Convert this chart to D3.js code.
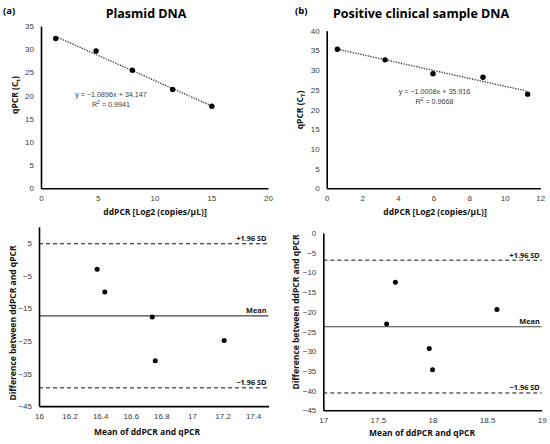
<!DOCTYPE html>
<html>
<head>
<meta charset="utf-8">
<script src="https://cdn.jsdelivr.net/npm/d3@7"></script>
<style>
  html, body { margin: 0; padding: 0; background: #fff; }
  svg { display: block; }
</style>
</head>
<body>
<svg id="chart" width="550" height="444"></svg>
<script>
// ---------- data ----------
const plasmidX = [1.3, 4.85, 8.05, 11.6, 15.05];
const plasmidY = [32.3, 29.6, 25.45, 21.3, 17.7];
const plasmidFit = { slope: -1.0896, intercept: 34.147, r2: "0.9941", eq: "y = \u22121.0896x + 34.147" };

const clinicalX = [0.6, 3.28, 5.97, 8.78, 11.29];
const clinicalY = [35.3, 32.6, 29.1, 28.2, 23.9];
const clinicalFit = { slope: -1.0008, intercept: 35.916, r2: "0.9668", eq: "y = \u22121.0008x + 35.916" };

const baPlasmidMean = [16.38, 16.43, 16.74, 16.76, 17.21];
const baPlasmidDiff = [-3.0, -10.0, -17.7, -31.1, -24.9];
const baPlasmidLines = { upper: 4.8, mean: -17.3, lower: -39.4 };

const baClinicalMean = [17.66, 17.58, 18.59, 17.97, 18.0];
const baClinicalDiff = [-12.5, -23.1, -19.4, -29.3, -34.7];
const baClinicalLines = { upper: -6.9, mean: -23.8, lower: -40.6 };

const ticksTLx = [0, 5, 10, 15, 20];
const ticksTLy = [0, 5, 10, 15, 20, 25, 30, 35];
const ticksTRx = [0, 2, 4, 6, 8, 10, 12];
const ticksTRy = [0, 5, 10, 15, 20, 25, 30, 35, 40];
const ticksBLx = [16, 16.2, 16.4, 16.6, 16.8, 17, 17.2, 17.4];
const ticksBLy = [5, -5, -15, -25, -35, -45];
const ticksBRx = [17, 17.5, 18, 18.5, 19];
const ticksBRy = [0, -5, -10, -15, -20, -25, -30, -35, -40, -45];

// ---------- drawing ----------
const svg = d3.select("#chart");
const TICK_FONT = "'Liberation Sans', Arial, sans-serif";
const BOLD_FONT = "'Open Sans', 'DejaVu Sans', sans-serif";

function axes(g, x, y, xTicks, yTicks, fmt) {
  const xr = x.range(), yr = y.range();
  const xa = g.append("g").attr("transform", `translate(0,${yr[0]})`)
    .call(d3.axisBottom(x).tickValues(xTicks).tickSize(0).tickPadding(7).tickFormat(fmt));
  const ya = g.append("g").attr("transform", `translate(${xr[0]},0)`)
    .call(d3.axisLeft(y).tickValues(yTicks).tickSize(0).tickPadding(7).tickFormat(fmt));
  [xa, ya].forEach(a => {
    a.select(".domain").attr("stroke", "#000").attr("stroke-width", 1.6);
    a.selectAll("text").attr("font-family", TICK_FONT).attr("font-size", 8).attr("fill", "#3a3a3a");
  });
}

function axisTitles(g, xt, yt) {
  g.append("text").attr("x", xt.x).attr("y", xt.y).attr("text-anchor", "middle")
    .attr("font-family", BOLD_FONT).attr("font-weight", 700).attr("font-size", 8.5).attr("fill", "#111")
    .text(xt.text);
  const t = g.append("text").attr("transform", `translate(${yt.x},${yt.y}) rotate(-90)`)
    .attr("text-anchor", "middle").attr("font-family", BOLD_FONT).attr("font-weight", 700)
    .attr("font-size", 8.5).attr("fill", "#111");
  t.append("tspan").text(yt.text);
  if (yt.sub) {
    t.append("tspan").attr("font-size", 6).attr("dy", 2).text(yt.sub);
    t.append("tspan").attr("dy", -2).text(")");
  }
}

function scatterPanel(cfg) {
  const g = svg.append("g");
  const x = d3.scaleLinear().domain(cfg.xDomain).range(cfg.xRange);
  const y = d3.scaleLinear().domain(cfg.yDomain).range(cfg.yRange);
  axes(g, x, y, cfg.xTicks, cfg.yTicks, d3.format("~g"));
  const xs = cfg.xs, ys = cfg.ys, fit = cfg.fit;
  const x0 = d3.min(xs), x1 = d3.max(xs);
  g.append("line")
    .attr("x1", x(x0)).attr("y1", y(fit.slope * x0 + fit.intercept))
    .attr("x2", x(x1)).attr("y2", y(fit.slope * x1 + fit.intercept))
    .attr("stroke", "#333").attr("stroke-width", 1.3).attr("stroke-dasharray", "1.3,1.3");
  g.selectAll("circle.pt").data(xs).join("circle").attr("class", "pt")
    .attr("cx", d => x(d)).attr("cy", (d, i) => y(ys[i])).attr("r", 2.7).attr("fill", "#000");
  const eq = g.append("text").attr("x", cfg.eqPos[0]).attr("y", cfg.eqPos[1])
    .attr("text-anchor", "middle").attr("font-family", TICK_FONT).attr("font-size", 7.2).attr("fill", "#3a3a3a");
  eq.append("tspan").attr("x", cfg.eqPos[0]).text(fit.eq);
  const r = eq.append("tspan").attr("x", cfg.eqPos[0]).attr("dy", 10);
  r.append("tspan").text("R");
  r.append("tspan").attr("font-size", 5).attr("dy", -3).text("2");
  r.append("tspan").attr("dy", 3).text(" = " + fit.r2);
  g.append("text").attr("x", cfg.title.x).attr("y", cfg.title.y).attr("text-anchor", "middle")
    .attr("font-family", BOLD_FONT).attr("font-weight", 700).attr("font-size", 12.5).attr("fill", "#000")
    .text(cfg.title.text);
  g.append("text").attr("x", cfg.tag.x).attr("y", cfg.tag.y)
    .attr("font-family", BOLD_FONT).attr("font-weight", 700).attr("font-size", 9.5).attr("fill", "#000")
    .text(cfg.tag.text);
  axisTitles(g, cfg.xTitle, cfg.yTitle);
}

function baPanel(cfg) {
  const g = svg.append("g");
  const x = d3.scaleLinear().domain(cfg.xDomain).range(cfg.xRange);
  const y = d3.scaleLinear().domain(cfg.yDomain).range(cfg.yRange);
  const xr = x.range();
  const L = cfg.lines;
  [["upper", "+1.96 SD", true], ["mean", "Mean", false], ["lower", "\u22121.96 SD", true]].forEach(([k, lab, dashed]) => {
    g.append("line").attr("x1", xr[0]).attr("x2", xr[1]).attr("y1", y(L[k])).attr("y2", y(L[k]))
      .attr("stroke", dashed ? "#111" : "#444").attr("stroke-width", dashed ? 1 : 1.2)
      .attr("stroke-dasharray", dashed ? "4,3" : null);
    g.append("text").attr("x", xr[1] - 2).attr("y", y(L[k]) - 2.5).attr("text-anchor", "end")
      .attr("font-family", BOLD_FONT).attr("font-weight", 700).attr("font-size", 7.3).attr("fill", "#111")
      .text(lab);
  });
  axes(g, x, y, cfg.xTicks, cfg.yTicks, d3.format("~g"));
  g.selectAll("circle.pt").data(cfg.xs).join("circle").attr("class", "pt")
    .attr("cx", d => x(d)).attr("cy", (d, i) => y(cfg.ys[i])).attr("r", 2.5).attr("fill", "#000");
  axisTitles(g, cfg.xTitle, cfg.yTitle);
}

scatterPanel({
  xDomain: [0, 20], xRange: [41, 268], yDomain: [0, 35], yRange: [188.3, 26],
  xTicks: ticksTLx, yTicks: ticksTLy, xs: plasmidX, ys: plasmidY, fit: plasmidFit,
  eqPos: [111, 97],
  title: { text: "Plasmid DNA", x: 146, y: 18 },
  tag: { text: "(a)", x: 3, y: 14 },
  xTitle: { text: "ddPCR [Log2 (copies/\u00b5L)]", x: 155, y: 215 },
  yTitle: { text: "qPCR (C", sub: "t", x: 18, y: 95 }
});

scatterPanel({
  xDomain: [0, 12], xRange: [326.7, 540.3], yDomain: [0, 40], yRange: [188.3, 30.7],
  xTicks: ticksTRx, yTicks: ticksTRy, xs: clinicalX, ys: clinicalY, fit: clinicalFit,
  eqPos: [434.5, 94],
  title: { text: "Positive clinical sample DNA", x: 421, y: 18 },
  tag: { text: "(b)", x: 295, y: 14 },
  xTitle: { text: "ddPCR [Log2 (copies/\u00b5L)]", x: 435, y: 215 },
  yTitle: { text: "qPCR (C", sub: "T", x: 303, y: 110 }
});

baPanel({
  xDomain: [16, 17.5], xRange: [39, 268.5], yDomain: [-45, 10], yRange: [406.1, 226.8],
  xTicks: ticksBLx, yTicks: ticksBLy, xs: baPlasmidMean, ys: baPlasmidDiff, lines: baPlasmidLines,
  xTitle: { text: "Mean of ddPCR and qPCR", x: 147, y: 435 },
  yTitle: { text: "Difference between ddPCR and qPCR", x: 16, y: 323 }
});

baPanel({
  xDomain: [17, 19], xRange: [323.3, 541.7], yDomain: [-45, 0], yRange: [410.3, 233],
  xTicks: ticksBRx, yTicks: ticksBRy, xs: baClinicalMean, ys: baClinicalDiff, lines: baClinicalLines,
  xTitle: { text: "Mean of ddPCR and qPCR", x: 422, y: 435.5 },
  yTitle: { text: "Difference between ddPCR and qPCR", x: 299, y: 312 }
});
</script>
</body>
</html>
